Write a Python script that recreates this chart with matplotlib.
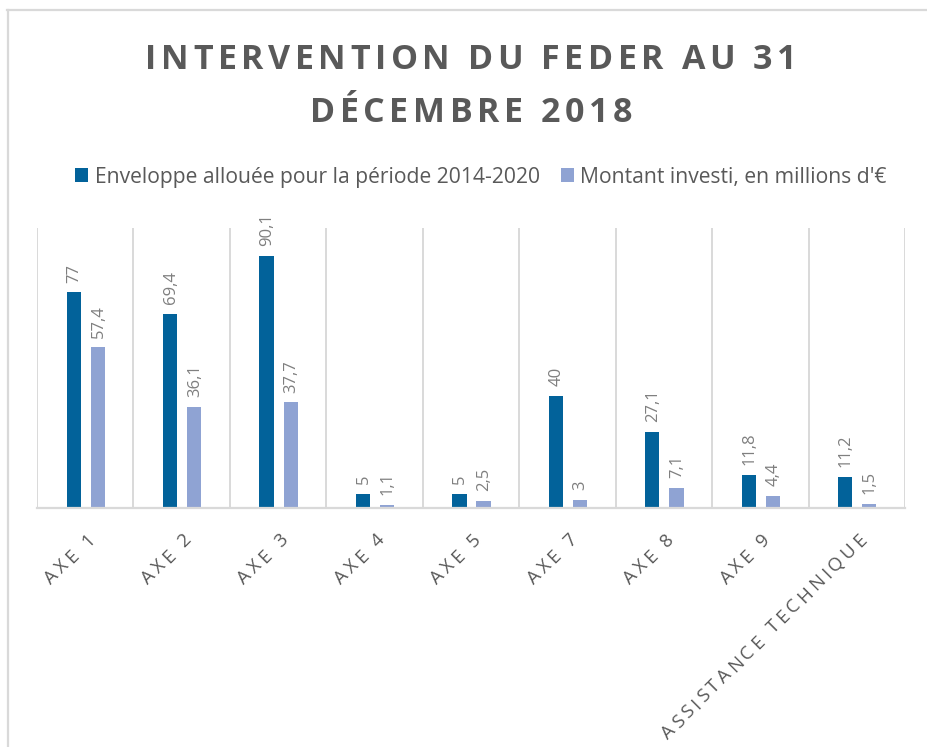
import matplotlib
matplotlib.use("Agg")
import matplotlib.pyplot as plt
from matplotlib.lines import Line2D
from matplotlib.font_manager import FontProperties
from matplotlib.textpath import TextToPath
import numpy as np

categories = ["AXE 1", "AXE 2", "AXE 3", "AXE 4", "AXE 5", "AXE 7", "AXE 8", "AXE 9", "ASSISTANCE TECHNIQUE"]
enveloppe = [77, 69.4, 90.1, 5, 5, 40, 27.1, 11.8, 11.2]
montant = [57.4, 36.1, 37.7, 1.1, 2.5, 3, 7.1, 4.4, 1.5]
series_names = ["Enveloppe allouée pour la période 2014-2020", "Montant investi, en millions d'€"]
title_lines = ["INTERVENTION DU FEDER AU 31", "DÉCEMBRE 2018"]

dark = "#02629A"
light = "#8FA3D3"
grey_text = "#595959"
grid_col = "#D9D9D9"

plt.rcParams['font.family'] = ['Open Sans', 'DejaVu Sans']

W, H = 927, 747
DPI = 100
fig = plt.figure(figsize=(W / DPI, H / DPI), dpi=DPI)
fig.patch.set_facecolor("white")

# outer frame (open towards right/bottom, as cropped)
fig.add_artist(Line2D([7 / W, 1.0], [1 - 10 / H, 1 - 10 / H], transform=fig.transFigure,
                      color=grid_col, linewidth=1.6))
fig.add_artist(Line2D([8 / W, 8 / W], [1 - 10 / H, 0.0], transform=fig.transFigure,
                      color=grid_col, linewidth=1.6))

_ttp = TextToPath()


def advances(s, fp):
    w0 = _ttp.get_text_width_height_descent("HH", fp, ismath=False)[0]
    out = []
    for c in s:
        w1 = _ttp.get_text_width_height_descent("H" + c + "H", fp, ismath=False)[0]
        out.append((w1 - w0) * DPI / 72.0)
    return out


def spaced_text(s, x_img, y_img, fp, tracking, angle=0.0, align="center", color=grey_text):
    """Draw letter-spaced text; (x_img, y_img) is baseline centre or baseline end in image pixels."""
    adv = advances(s, fp)
    total = sum(adv) + tracking * (len(s) - 1)
    a = np.deg2rad(angle)
    ux, uy = np.cos(a), np.sin(a)
    px, py = x_img, H - y_img
    if align == "center":
        sx, sy = px - ux * total / 2, py - uy * total / 2
    else:  # right
        sx, sy = px - ux * total, py - uy * total
    pos = 0.0
    for c, w in zip(s, adv):
        fig.text((sx + ux * pos) / W, (sy + uy * pos) / H, c, fontproperties=fp, color=color,
                 rotation=angle, rotation_mode="anchor", ha="left", va="baseline")
        pos += w + tracking
    return total


def natural_width(s, fp):
    return sum(advances(s, fp))


ax_left, ax_right, ax_top, ax_bottom = 37, 905, 228, 508
ax = fig.add_axes([ax_left / W, 1 - ax_bottom / H, (ax_right - ax_left) / W, (ax_bottom - ax_top) / H])

x = np.arange(len(categories))
bw = 0.148
b1 = ax.bar(x - 0.12, enveloppe, bw, color=dark, label=series_names[0])
b2 = ax.bar(x + 0.13, montant, bw, color=light, label=series_names[1])


def fmt(v):
    return ("%g" % v).replace(".", ",")


for bars, vals in ((b1, enveloppe), (b2, montant)):
    for r, v in zip(bars, vals):
        ax.annotate(fmt(v), (r.get_x() + r.get_width() / 2, v), xytext=(0.5, 7),
                    textcoords="offset points", rotation=90, ha="center", va="bottom",
                    fontsize=12, color="#7F7F7F")

ax.set_xlim(-0.5, len(categories) - 0.5)
ax.set_ylim(0, 100)
ax.set_yticks([])
for b in np.arange(-0.5, len(categories), 1.0):
    ax.axvline(b, color=grid_col, linewidth=1.4, zorder=0)
for s in ["top", "right", "left"]:
    ax.spines[s].set_visible(False)
ax.spines["bottom"].set_color(grid_col)
ax.spines["bottom"].set_linewidth(1.6)
ax.set_xticks(x)
ax.set_xticklabels([])
ax.tick_params(axis="x", length=0)

# letter-spaced rotated category labels
tick_size = 13.5
fp_tick = FontProperties(family=['Open Sans', 'DejaVu Sans'], size=tick_size)
tick_track = (282 - natural_width(categories[-1], fp_tick)) / (len(categories[-1]) - 1)
cap = tick_size * DPI / 72 * 0.714
cat_w = (ax_right - ax_left) / len(categories)
for i, lab in enumerate(categories):
    xc = ax_left + cat_w * (i + 0.5)
    ex = xc + 1 + 0.707 * cap
    ey = 531 + 0.707 * cap
    spaced_text(lab, ex, ey, fp_tick, tick_track, angle=45, align="right")

# letter-spaced title
fp_title = FontProperties(family=['Open Sans', 'DejaVu Sans'], size=24.5, weight="bold")
title_track = (651 - natural_width(title_lines[0], fp_title)) / (len(title_lines[0]) - 1)
spaced_text(title_lines[0], 471, 69, fp_title, title_track)
spaced_text(title_lines[1], 471, 122, fp_title, title_track)

leg = fig.legend(handles=[b1, b2], labels=series_names, loc="center", bbox_to_anchor=(481 / W, 1 - 177 / H),
                 ncol=2, frameon=False, fontsize=15.2, handlelength=0.62, handleheight=0.62,
                 handletextpad=0.3, columnspacing=1.0)
for t in leg.get_texts():
    t.set_color(grey_text)

fig.savefig("out.png", dpi=DPI, facecolor="white")
